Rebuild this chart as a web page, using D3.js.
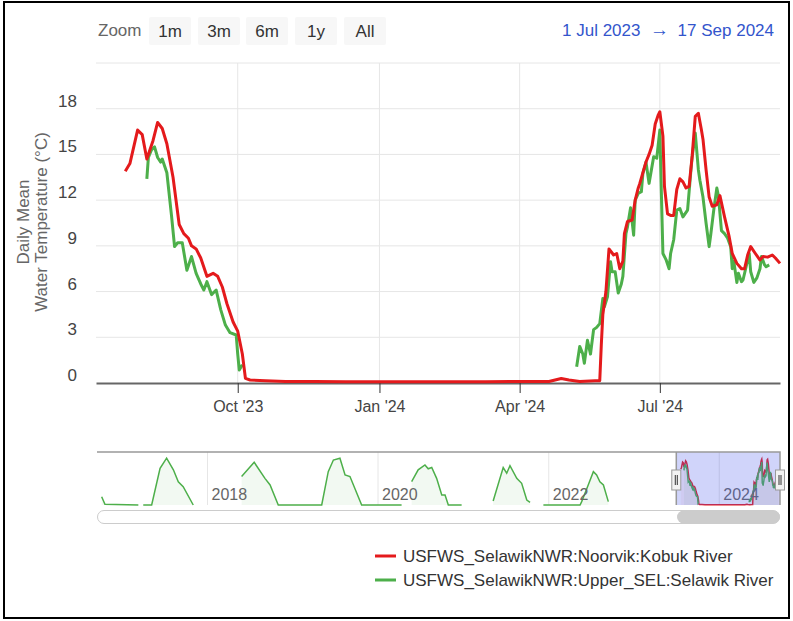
<!DOCTYPE html>
<html>
<head>
  <title>Daily Mean Water Temperature</title>
  <script src="https://d3js.org/d3.v7.min.js"></script>
  <style>
    body { margin: 0; background: #fff; }
    text { font-family: "Liberation Sans", Arial, sans-serif; }
    .line { fill: none; stroke-width: 3px; stroke-linejoin: round; }
  </style>
</head>
<body>
  <svg id="chart" width="793" height="621"></svg>

  <script>
    // Noorvik:Kobuk River (red)
    var redDates = ["2023-07-20","2023-07-23","2023-07-28","2023-07-31","2023-08-03","2023-08-07","2023-08-10","2023-08-13",
      "2023-08-16","2023-08-20","2023-08-24","2023-08-27","2023-08-30","2023-09-01","2023-09-04","2023-09-07","2023-09-11",
      "2023-09-15","2023-09-18","2023-09-21","2023-09-24","2023-09-28","2023-10-01","2023-10-04","2023-10-06","2023-10-09",
      "2023-10-19","2023-11-01","2023-11-20","2023-12-10","2024-01-01","2024-01-25","2024-02-15","2024-03-10","2024-04-01",
      "2024-04-20","2024-04-28","2024-05-03","2024-05-10","2024-05-20","2024-05-23","2024-05-24","2024-05-25","2024-05-27",
      "2024-05-29","2024-06-01","2024-06-03","2024-06-05","2024-06-07","2024-06-08","2024-06-10","2024-06-13","2024-06-15",
      "2024-06-17","2024-06-18","2024-06-20","2024-06-22","2024-06-24","2024-06-26","2024-06-28","2024-06-30","2024-07-01",
      "2024-07-03","2024-07-04","2024-07-06","2024-07-08","2024-07-10","2024-07-12","2024-07-14","2024-07-16","2024-07-18",
      "2024-07-20","2024-07-22","2024-07-24","2024-07-26","2024-07-28","2024-07-29","2024-07-31","2024-08-02","2024-08-04",
      "2024-08-07","2024-08-09","2024-08-12","2024-08-15","2024-08-17","2024-08-20","2024-08-23","2024-08-25","2024-08-27",
      "2024-08-29","2024-09-01","2024-09-04","2024-09-06","2024-09-09","2024-09-12","2024-09-14","2024-09-17"];
    var redTemps = [13.9,14.4,16.6,16.3,14.7,15.9,17.1,16.7,
      15.7,13.5,10.4,9.8,9.5,9.0,8.8,8.2,7.0,
      7.2,7.0,6.3,5.2,4.0,3.4,1.9,0.3,0.2,
      0.15,0.1,0.1,0.08,0.08,0.08,0.08,0.08,0.1,
      0.1,0.3,0.2,0.1,0.15,0.15,2.5,4.5,6.0,
      8.8,8.4,8.5,7.5,8.0,9.8,10.6,10.7,12.0,
      12.8,13.1,13.8,14.5,15.0,15.6,17.0,17.6,17.8,
      16.2,12.9,11.1,11.0,11.0,12.7,13.4,13.2,12.8,
      12.9,14.9,17.5,17.7,16.6,16.0,14.0,12.2,11.6,
      11.7,12.3,10.9,9.6,8.5,7.85,7.5,7.5,8.4,
      8.95,8.5,8.07,8.3,8.26,8.4,8.2,7.85];

    // Upper_SEL:Selawik River (green), null = no data
    var greenDates = ["2023-08-03","2023-08-04","2023-08-06","2023-08-08","2023-08-10","2023-08-12","2023-08-13","2023-08-16",
      "2023-08-19","2023-08-21","2023-08-23","2023-08-26","2023-08-29","2023-09-01","2023-09-04","2023-09-07","2023-09-09",
      "2023-09-11","2023-09-14","2023-09-17","2023-09-20","2023-09-23","2023-09-26","2023-09-30","2023-10-01","2023-10-02",
      "2023-10-04","2024-01-01","2024-05-08","2024-05-10","2024-05-12","2024-05-13","2024-05-15","2024-05-17","2024-05-19",
      "2024-05-21","2024-05-23","2024-05-25","2024-05-26","2024-05-28","2024-05-30","2024-05-31","2024-06-02","2024-06-04",
      "2024-06-06","2024-06-07","2024-06-09","2024-06-10","2024-06-12","2024-06-14","2024-06-15","2024-06-17","2024-06-19",
      "2024-06-20","2024-06-22","2024-06-24","2024-06-27","2024-06-29","2024-07-01","2024-07-02","2024-07-03","2024-07-05",
      "2024-07-07","2024-07-08","2024-07-10","2024-07-12","2024-07-14","2024-07-16","2024-07-19","2024-07-21","2024-07-22",
      "2024-07-24","2024-07-26","2024-07-27","2024-07-29","2024-07-31","2024-08-02","2024-08-03","2024-08-05","2024-08-07",
      "2024-08-08","2024-08-10","2024-08-12","2024-08-14","2024-08-16","2024-08-17","2024-08-18","2024-08-20","2024-08-21",
      "2024-08-23","2024-08-24","2024-08-26","2024-08-28","2024-08-29","2024-08-31","2024-09-02","2024-09-04","2024-09-05",
      "2024-09-07","2024-09-08","2024-09-10"];
    var greenTemps = [13.4,14.8,15.3,15.5,14.8,14.5,14.7,13.8,
      11.0,8.95,9.2,9.2,7.4,8.3,7.2,6.5,6.1,
      6.65,5.8,6.1,4.8,3.8,3.3,3.15,1.9,0.85,
      1.2,null,1.07,2.4,1.9,1.3,2.8,1.9,3.5,
      3.65,3.9,5.55,5.0,5.66,7.96,7.3,7.3,5.9,
      6.5,7.0,9.8,10.25,11.5,9.7,12.0,12.45,12.55,
      13.76,14.5,13.1,14.85,14.75,16.6,12.45,8.5,8.1,
      7.5,8.5,9.4,11.35,11.45,10.9,11.35,13.76,14.85,
      16.4,14.0,13.3,12.2,10.5,8.95,9.7,11.35,12.8,
      12.3,10.0,9.8,9.5,8.95,7.5,8.0,6.6,7.2,
      6.65,6.76,7.63,8.5,7.3,6.6,6.9,7.5,8.3,
      7.75,7.63,7.75];

    // earlier Selawik history, only in the navigator
    var historyDates = ["2016-10-05","2016-10-19","2017-03-11","2017-03-20","2017-04-01","2017-05-07","2017-06-12","2017-07-10",
      "2017-08-08","2017-08-29","2017-09-19","2017-11-01","2018-01-01","2018-05-27","2018-07-20","2018-09-04","2018-09-26",
      "2018-10-31","2019-05-05","2019-06-02","2019-06-24","2019-07-22","2019-08-13","2019-09-03","2019-10-23","2020-04-11",
      "2020-05-01","2020-05-24","2020-06-21","2020-07-20","2020-08-03","2020-08-18","2020-09-08","2020-09-30","2020-10-14",
      "2020-10-28","2020-12-24","2021-03-01","2021-05-08","2021-06-20","2021-07-05","2021-07-19","2021-08-17","2021-09-07",
      "2021-09-29","2021-10-13","2021-11-15","2021-12-09","2022-05-15","2022-05-22","2022-06-19","2022-07-11","2022-07-25",
      "2022-08-08","2022-08-23","2022-09-13","2022-10-01"];
    var historyTemps = [3.2,0.3,0.0,null,0.0,0.0,14.2,18.1,
      13.6,9.0,7.1,0.0,null,11.0,16.5,10.3,7.75,
      0.0,0.0,12.9,17.4,18.1,11.6,11.0,0.0,0.0,
      null,9.0,13.6,15.5,14.0,14.5,10.3,3.9,3.9,
      0.0,0.0,null,1.55,14.5,12.3,15.2,10.3,8.4,
      1.9,1.0,null,0.0,0.0,1.3,7.75,12.9,11.6,
      9.0,7.75,1.3,null];

    var yTicks = [0, 3, 6, 9, 12, 15, 18, 21];
    var xTicks = ["2023-10-01", "2024-01-01", "2024-04-01", "2024-07-01"];
    var navTicks = ["2018-01-01", "2020-01-01", "2022-01-01", "2024-01-01"];
    var zoomButtons = ["1m", "3m", "6m", "1y", "All"];
    var seriesNames = ["USFWS_SelawikNWR:Noorvik:Kobuk River", "USFWS_SelawikNWR:Upper_SEL:Selawik River"];
    var colors = ["#e41a1c", "#4daf4a"];

    var parse = d3.utcParse("%Y-%m-%d");
    function rows(dates, vals) {
      return dates.map(function(d, i) { return { date: parse(d), value: vals[i] }; });
    }
    var redRows = rows(redDates, redTemps);
    var greenRows = rows(greenDates, greenTemps);
    var historyRows = rows(historyDates, historyTemps);

    var svg = d3.select("#chart");

    // outer frame
    svg.append("rect").attr("x", 4).attr("y", 2).attr("width", 785).attr("height", 616)
      .attr("fill", "none").attr("stroke", "#000").attr("stroke-width", 2);

    // main plot
    var plotL = 96, plotR = 780, plotT = 63, plotB = 383;
    var x = d3.scaleUtc().domain([parse("2023-07-01"), parse("2024-09-17")]).range([plotL, plotR]);
    var y = d3.scaleLinear().domain([0, 21]).range([plotB, plotT]);

    svg.append("g").selectAll("line").data(yTicks.filter(function(t) { return t > 0; })).join("line")
      .attr("x1", plotL).attr("x2", plotR)
      .attr("y1", function(d) { return y(d); }).attr("y2", function(d) { return y(d); })
      .attr("stroke", "#e6e6e6").attr("stroke-width", 1);

    svg.append("g").selectAll("line").data(xTicks).join("line")
      .attr("x1", function(d) { return x(parse(d)); }).attr("x2", function(d) { return x(parse(d)); })
      .attr("y1", plotT).attr("y2", plotB)
      .attr("stroke", "#e6e6e6").attr("stroke-width", 1);

    svg.append("g").selectAll("text").data(yTicks.filter(function(t) { return t < 21; })).join("text")
      .attr("x", 77).attr("y", function(d) { return y(d) - 2; })
      .attr("text-anchor", "end").attr("fill", "#444").style("font-size", "17px")
      .text(function(d) { return d; });

    var xAxis = d3.axisBottom(x).tickValues(xTicks.map(parse))
      .tickFormat(d3.utcFormat("%b '%y")).tickSize(10).tickPadding(8).tickSizeOuter(0);
    var gx = svg.append("g").attr("transform", "translate(0," + plotB + ")").call(xAxis);
    gx.select(".domain").attr("stroke", "#666").attr("stroke-width", 2);
    gx.selectAll(".tick line").attr("stroke", "#333");
    gx.selectAll(".tick text").attr("fill", "#444").style("font-size", "16px")
      .style("font-family", '"Liberation Sans", Arial, sans-serif');

    var yTitle = svg.append("text").attr("transform", "translate(29,222) rotate(-90)")
      .attr("text-anchor", "middle").attr("fill", "#666").style("font-size", "17px");
    yTitle.append("tspan").attr("x", 0).attr("dy", 0).text("Daily Mean");
    yTitle.append("tspan").attr("x", 0).attr("dy", 18).text("Water Temperature (°C)");

    var line = d3.line()
      .defined(function(d) { return d.value !== null; })
      .x(function(d) { return x(d.date); })
      .y(function(d) { return y(d.value); });

    svg.append("path").datum(greenRows).attr("class", "line").attr("d", line).style("stroke", colors[1]);
    svg.append("path").datum(redRows).attr("class", "line").attr("d", line).style("stroke", colors[0]);

    // range selector
    svg.append("text").attr("x", 98).attr("y", 36).attr("fill", "#666").style("font-size", "17px").text("Zoom");
    var btnX = [149, 198, 246, 295, 344];
    var btn = svg.append("g").selectAll("g").data(zoomButtons).join("g")
      .attr("transform", function(d, i) { return "translate(" + btnX[i] + ",17)"; });
    btn.append("rect").attr("width", 42).attr("height", 28).attr("rx", 2).attr("fill", "#f7f7f7");
    btn.append("text").attr("x", 21).attr("y", 20).attr("text-anchor", "middle")
      .attr("fill", "#333").style("font-size", "17px").text(function(d) { return d; });

    var range = svg.append("text").attr("y", 36).attr("fill", "#3355cc").style("font-size", "17px");
    range.append("tspan").attr("x", 562).text("1 Jul 2023");
    range.append("tspan").attr("x", 650).style("font-size", "19px").text("\u2192");
    range.append("tspan").attr("x", 774).attr("text-anchor", "end").text("17 Sep 2024");

    // navigator
    var nTop = 452, nBottom = 505;
    var nx = d3.scaleUtc().domain([parse("2016-09-15"), parse("2024-09-17")]).range([97, 780]);
    var ny = d3.scaleLinear().domain([0, 20.5]).range([nBottom, nTop]);

    svg.append("g").selectAll("line").data(navTicks).join("line")
      .attr("x1", function(d) { return nx(parse(d)); }).attr("x2", function(d) { return nx(parse(d)); })
      .attr("y1", nTop).attr("y2", nBottom).attr("stroke", "#e6e6e6");

    var navArea = d3.area().defined(function(d) { return d.value !== null; })
      .x(function(d) { return nx(d.date); }).y0(nBottom).y1(function(d) { return ny(d.value); });
    var navLine = d3.line().defined(function(d) { return d.value !== null; })
      .x(function(d) { return nx(d.date); }).y(function(d) { return ny(d.value); });

    var navGreen = historyRows.concat(greenRows);
    svg.append("path").datum(navGreen).attr("d", navArea).attr("fill", colors[1]).attr("fill-opacity", 0.07);
    svg.append("path").datum(redRows).attr("d", navArea).attr("fill", colors[0]).attr("fill-opacity", 0.05);
    svg.append("path").datum(redRows).attr("d", navLine).attr("fill", "none").attr("stroke", colors[0]).attr("stroke-width", 1.5);
    svg.append("path").datum(navGreen).attr("d", navLine).attr("fill", "none").attr("stroke", colors[1]).attr("stroke-width", 1.5);

    svg.append("g").selectAll("text").data(navTicks).join("text")
      .attr("x", function(d) { return nx(parse(d)) + 4; }).attr("y", 500)
      .attr("fill", "#666").style("font-size", "16px")
      .text(function(d) { return d.slice(0, 4); });

    var m0 = nx(parse("2023-07-01")), m1 = nx(parse("2024-09-17"));
    svg.append("rect").attr("x", m0).attr("y", nTop).attr("width", m1 - m0).attr("height", nBottom - nTop)
      .attr("fill", "rgb(80,95,235)").attr("fill-opacity", 0.27);
    svg.append("path")
      .attr("d", "M97," + nTop + "H" + m0 + "V" + nBottom + "M" + m0 + "," + nTop + "H" + m1 + "V" + nBottom)
      .attr("fill", "none").attr("stroke", "#999").attr("stroke-width", 1.5);

    var handles = svg.append("g").selectAll("g").data([m0, m1]).join("g")
      .attr("transform", function(d) { return "translate(" + (d - 4.5) + ",470)"; });
    handles.append("rect").attr("width", 9).attr("height", 20).attr("fill", "#f2f2f2").attr("stroke", "#999");
    handles.append("path").attr("d", "M3.5,5V15M5.5,5V15").attr("stroke", "#333").attr("stroke-width", 1);

    // scrollbar
    svg.append("rect").attr("x", 97.5).attr("y", 510.5).attr("width", 682).attr("height", 13).attr("rx", 6.5)
      .attr("fill", "#fff").attr("stroke", "#ccc");
    svg.append("rect").attr("x", 677).attr("y", 510.5).attr("width", 103).attr("height", 13).attr("rx", 6.5)
      .attr("fill", "#cccccc");

    // legend
    var legend = svg.append("g").selectAll("g").data(seriesNames).join("g")
      .attr("transform", function(d, i) { return "translate(375," + (556 + i * 24) + ")"; });
    legend.append("line").attr("x1", 0).attr("x2", 21).attr("stroke", function(d, i) { return colors[i]; })
      .attr("stroke-width", 3);
    legend.append("text").attr("x", 28).attr("y", 6).attr("fill", "#333").style("font-size", "17px")
      .text(function(d) { return d; });
  </script>
</body>
</html>
